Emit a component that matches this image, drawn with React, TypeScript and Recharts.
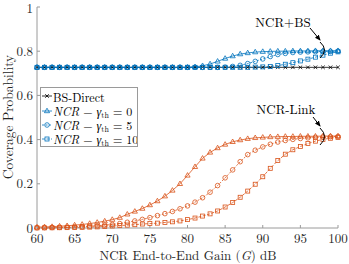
import { LineChart, Line, XAxis, YAxis, Legend } from "recharts";

const BLUE = "#0072BD";
const ORANGE = "#D95319";
const AXIS = "#9a9a9a";
const FONT = "Latin Modern Roman, Liberation Serif, serif";

const gain = [
  60, 61, 62, 63, 64, 65, 66, 67, 68, 69, 70, 71, 72, 73, 74, 75, 76, 77, 78, 79, 80,
  81, 82, 83, 84, 85, 86, 87, 88, 89, 90, 91, 92, 93, 94, 95, 96, 97, 98, 99, 100,
];

const bsDirect = [
  0.727, 0.727, 0.727, 0.727, 0.727, 0.727, 0.727, 0.727, 0.727, 0.727, 0.727,
  0.727, 0.727, 0.727, 0.727, 0.727, 0.727, 0.727, 0.727, 0.727, 0.727, 0.727,
  0.727, 0.727, 0.727, 0.727, 0.727, 0.727, 0.727, 0.727, 0.727, 0.727, 0.727,
  0.727, 0.727, 0.727, 0.727, 0.727, 0.727, 0.727, 0.727,
];

// NCR + BS coverage (blue)
const bs0 = [
  0.727, 0.727, 0.727, 0.727, 0.727, 0.727, 0.727, 0.727, 0.727, 0.727, 0.727,
  0.727, 0.727, 0.727, 0.727, 0.727, 0.727, 0.727, 0.727, 0.727, 0.727, 0.729,
  0.734, 0.742, 0.754, 0.767, 0.778, 0.787, 0.792, 0.796, 0.798, 0.799, 0.8,
  0.8, 0.801, 0.801, 0.801, 0.802, 0.802, 0.802, 0.802,
];
const bs5 = [
  0.727, 0.727, 0.727, 0.727, 0.727, 0.727, 0.727, 0.727, 0.727, 0.727, 0.727,
  0.727, 0.727, 0.727, 0.727, 0.727, 0.727, 0.727, 0.727, 0.727, 0.727, 0.727,
  0.727, 0.727, 0.727, 0.728, 0.731, 0.736, 0.744, 0.754, 0.765, 0.776, 0.785,
  0.79, 0.794, 0.796, 0.797, 0.798, 0.799, 0.799, 0.8,
];
const bs10 = [
  0.727, 0.727, 0.727, 0.727, 0.727, 0.727, 0.727, 0.727, 0.727, 0.727, 0.727,
  0.727, 0.727, 0.727, 0.727, 0.727, 0.727, 0.727, 0.727, 0.727, 0.727, 0.727,
  0.727, 0.727, 0.727, 0.727, 0.727, 0.727, 0.727, 0.728, 0.729, 0.731, 0.735,
  0.741, 0.748, 0.756, 0.764, 0.773, 0.782, 0.791, 0.797,
];

// NCR link coverage (orange)
const link0 = [
  0.004, 0.005, 0.006, 0.008, 0.01, 0.013, 0.016, 0.02, 0.025, 0.031, 0.038,
  0.047, 0.062, 0.075, 0.088, 0.104, 0.122, 0.144, 0.17, 0.2, 0.238, 0.277,
  0.315, 0.342, 0.362, 0.378, 0.39, 0.398, 0.404, 0.408, 0.41, 0.412, 0.413,
  0.414, 0.414, 0.415, 0.415, 0.415, 0.416, 0.416, 0.416,
];
const link5 = [
  0.001, 0.0015, 0.002, 0.003, 0.004, 0.005, 0.006, 0.008, 0.01, 0.013, 0.016,
  0.02, 0.026, 0.032, 0.039, 0.047, 0.056, 0.065, 0.075, 0.087, 0.1, 0.117,
  0.137, 0.162, 0.192, 0.227, 0.263, 0.3, 0.332, 0.352, 0.367, 0.379, 0.389,
  0.396, 0.401, 0.405, 0.408, 0.41, 0.412, 0.413, 0.414,
];
const link10 = [
  0.0005, 0.0007, 0.001, 0.0013, 0.0017, 0.002, 0.003, 0.004, 0.005, 0.007,
  0.009, 0.011, 0.013, 0.015, 0.018, 0.02, 0.022, 0.025, 0.028, 0.032, 0.038,
  0.045, 0.054, 0.064, 0.077, 0.095, 0.115, 0.139, 0.167, 0.198, 0.232, 0.27,
  0.305, 0.334, 0.354, 0.369, 0.382, 0.393, 0.401, 0.406, 0.41,
];

const xTicks = [60, 65, 70, 75, 80, 85, 90, 95, 100];
const yTicks = [0, 0.2, 0.4, 0.6, 0.8, 1];

const data = gain.map((g, i) => ({
  g,
  bsDirect: bsDirect[i],
  bs0: bs0[i],
  bs5: bs5[i],
  bs10: bs10[i],
  link0: link0[i],
  link5: link5[i],
  link10: link10[i],
}));

type Shape = "x" | "tri" | "circ" | "sq";

function marker(shape: Shape, cx: number, cy: number, color: string, key?: any) {
  const sw = 0.8;
  if (shape === "x")
    return (
      <path
        key={key}
        d={`M${cx - 1.8},${cy - 1.8}L${cx + 1.8},${cy + 1.8}M${cx - 1.8},${cy + 1.8}L${cx + 1.8},${cy - 1.8}`}
        stroke={color}
        strokeWidth={sw}
        fill="none"
      />
    );
  if (shape === "tri")
    return (
      <path
        key={key}
        d={`M${cx},${cy - 2.8}L${cx + 2.6},${cy + 1.7}L${cx - 2.6},${cy + 1.7}Z`}
        stroke={color}
        strokeWidth={sw}
        fill="none"
      />
    );
  if (shape === "circ")
    return <circle key={key} cx={cx} cy={cy} r={2.3} stroke={color} strokeWidth={sw} fill="none" />;
  return (
    <rect key={key} x={cx - 2} y={cy - 2} width={4} height={4} stroke={color} strokeWidth={sw} fill="none" />
  );
}

const dot = (shape: Shape, color: string) => (p: any) =>
  marker(shape, p.cx, p.cy, color, `${shape}-${color}-${p.index}`);

const legendRows = [
  { shape: "x" as Shape, color: "#000", dash: undefined as string | undefined, th: "" },
  { shape: "tri" as Shape, color: BLUE, dash: undefined, th: "0" },
  { shape: "circ" as Shape, color: BLUE, dash: "2 1.5", th: "5" },
  { shape: "sq" as Shape, color: BLUE, dash: "3 1.5", th: "10" },
];

function LegendBox() {
  return (
    <div
      style={{
        width: 98,
        height: 60,
        border: `1px solid ${AXIS}`,
        background: "#fff",
        fontFamily: FONT,
        fontSize: 12,
        color: "#000",
        boxSizing: "border-box",
        paddingTop: 1,
        overflow: "hidden",
      }}
    >
      {legendRows.map((r, i) => (
        <div key={i} style={{ display: "flex", alignItems: "center", height: 14.4, whiteSpace: "nowrap" }}>
          <svg width={12} height={10} style={{ flex: "none" }}>
            <line x1={1} y1={5} x2={11} y2={5} stroke={r.color} strokeWidth={0.8} strokeDasharray={r.dash} />
            {marker(r.shape, 6, 5, r.color)}
          </svg>
          {r.th === "" ? (
            <span>BS-Direct</span>
          ) : (
            <span>
              <i>NCR</i> − <i>γ</i>
              <sub style={{ fontSize: 8, verticalAlign: "-2px" }}>th</sub> = {r.th}
            </span>
          )}
        </div>
      ))}
    </div>
  );
}

function Annotations() {
  return (
    <svg
      width={349}
      height={264}
      style={{ position: "absolute", left: 0, top: 0, pointerEvents: "none" }}
      fontFamily={FONT}
    >
      <defs>
        <marker id="ah" markerWidth="6" markerHeight="6" refX="5" refY="3" orient="auto">
          <path d="M0,0.5L6,3L0,5.5Z" fill="#000" />
        </marker>
      </defs>
      <text x={283} y={27} fontSize={13} textAnchor="middle" fill="#000">
        NCR+BS
      </text>
      <line x1={310} y1={28} x2={320} y2={40} stroke="#000" strokeWidth={1} markerEnd="url(#ah)" />
      <path d="M320,42 Q329,50 320,58" stroke="#000" strokeWidth={1} fill="none" />
      <text x={286} y={114} fontSize={13} textAnchor="middle" fill="#000">
        NCR-Link
      </text>
      <line x1={313} y1={117} x2={320} y2={126} stroke="#000" strokeWidth={1} markerEnd="url(#ah)" />
      <path d="M320,128 Q329,136.5 320,145" stroke="#000" strokeWidth={1} fill="none" />
    </svg>
  );
}

export default function App() {
  return (
    <div style={{ position: "fixed", left: 0, top: 0, width: 349, height: 264, background: "#fff" }}>
      <LineChart width={349} height={264} data={data} margin={{ top: 7, right: 11, bottom: 0, left: 0 }}>
        <XAxis
          dataKey="g"
          type="number"
          domain={[60, 100]}
          ticks={xTicks}
          height={36}
          stroke={AXIS}
          tickSize={-3}
          tickMargin={9}
          tick={{ fill: "#262626", fontSize: 13, fontFamily: FONT }}
          label={{
            content: () => (
              <text x={188} y={260} textAnchor="middle" fontFamily={FONT} fontSize={13} fill="#262626">
                NCR End-to-End Gain (<tspan fontStyle="italic">G</tspan>) dB
              </text>
            ),
          }}
        />
        <XAxis
          xAxisId="top"
          dataKey="g"
          type="number"
          orientation="top"
          domain={[60, 100]}
          ticks={xTicks}
          height={0}
          stroke={AXIS}
          tickSize={-3}
          tick={false}
        />
        <YAxis
          type="number"
          domain={[0, 1]}
          ticks={yTicks}
          width={37}
          stroke={AXIS}
          tickSize={-3}
          tickMargin={7}
          tick={{ fill: "#262626", fontSize: 13, fontFamily: FONT }}
          label={{
            content: () => (
              <text
                x={13}
                y={117}
                transform="rotate(-90 13 117)"
                textAnchor="middle"
                fontFamily={FONT}
                fontSize={13.5}
                fill="#262626"
              >
                Coverage Probability
              </text>
            ),
          }}
        />
        <YAxis
          yAxisId="right"
          orientation="right"
          type="number"
          domain={[0, 1]}
          ticks={yTicks}
          width={0}
          stroke={AXIS}
          tickSize={-3}
          tick={false}
        />
        <Legend
          layout="vertical"
          align="center"
          verticalAlign="middle"
          wrapperStyle={{ left: 40, top: 87, width: 98 }}
          content={() => <LegendBox />}
        />
        <Line dataKey="bsDirect" stroke="#000" strokeWidth={0.8} dot={dot("x", "#000")} isAnimationActive={false} />
        <Line dataKey="bs0" stroke={BLUE} strokeWidth={0.8} dot={dot("tri", BLUE)} isAnimationActive={false} />
        <Line dataKey="bs5" stroke={BLUE} strokeWidth={0.8} strokeDasharray="2 1.5" dot={dot("circ", BLUE)} isAnimationActive={false} />
        <Line dataKey="bs10" stroke={BLUE} strokeWidth={0.8} strokeDasharray="3 1.5" dot={dot("sq", BLUE)} isAnimationActive={false} />
        <Line dataKey="link0" stroke={ORANGE} strokeWidth={0.8} dot={dot("tri", ORANGE)} isAnimationActive={false} />
        <Line dataKey="link5" stroke={ORANGE} strokeWidth={0.8} strokeDasharray="2 1.5" dot={dot("circ", ORANGE)} isAnimationActive={false} />
        <Line dataKey="link10" stroke={ORANGE} strokeWidth={0.8} strokeDasharray="3 1.5" dot={dot("sq", ORANGE)} isAnimationActive={false} />
      </LineChart>
      <Annotations />
    </div>
  );
}
